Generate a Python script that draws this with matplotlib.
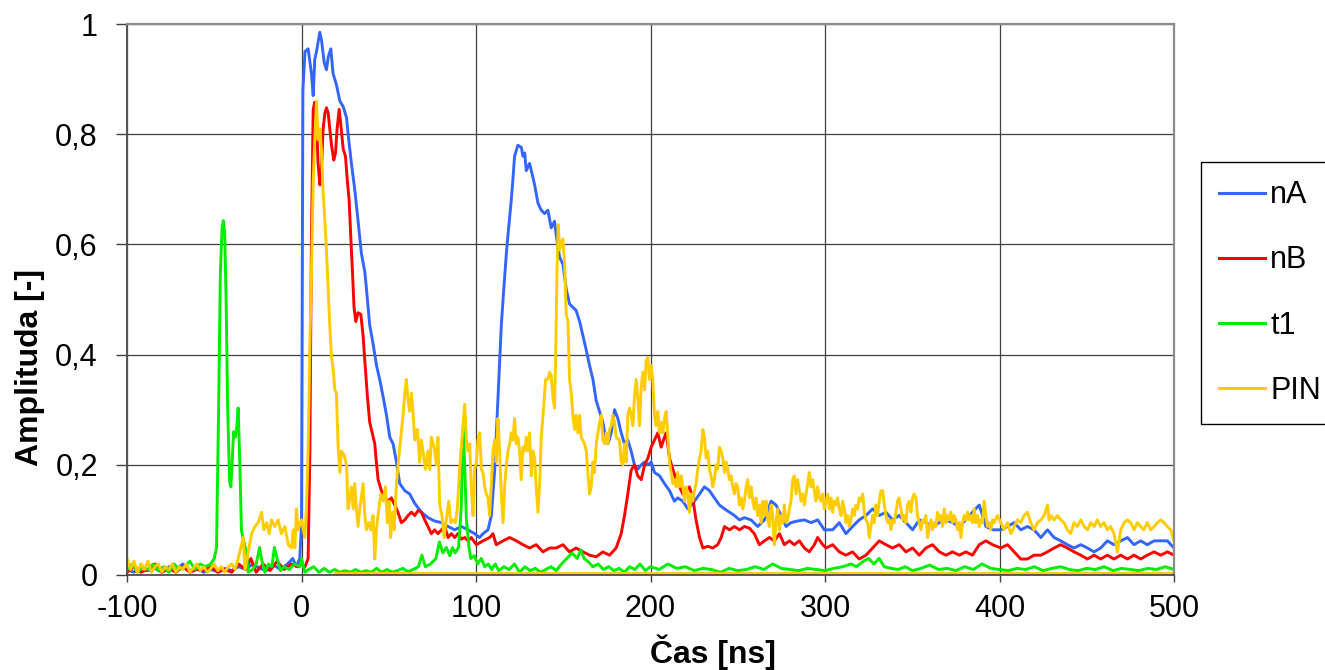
import matplotlib
matplotlib.use("Agg")
import matplotlib.pyplot as plt

plt.rcParams['font.family'] = ['Liberation Sans', 'DejaVu Sans']
plt.rcParams['axes.unicode_minus'] = False

# data (time in ns, amplitude)
nA_t = [-100, -96, -92, -88, -84, -80, -76, -72, -68, -64, -60, -56, -52, -48, -44, -40, -36, -32, -28, -24,
        -20, -16, -12, -8, -5, -3, -1, 0, 0.8, 2, 3.8, 5.7, 6.7, 7.6, 8.6, 10.5, 11.5, 13, 14.3, 15.3,
        16.8, 18.1, 20, 22, 23.9, 25.8, 26.7, 28.6, 30.5, 32.4, 34.3, 36.3, 37.2, 39.1, 41, 43, 44.8, 46.8,
        48.7, 50.6, 52.5, 54.4, 56.3, 59.2, 62, 64.9, 68.7, 72.5, 76.3, 80.2, 84, 87.8, 91.6, 95.4, 99.2,
        102, 104, 106.9, 108.8, 110.7, 112.6, 114.5, 115.5, 117.4, 118.3, 120.2, 121.2, 122.1, 124, 126,
        126.9, 127.9, 128.8, 130.7, 131.7, 133.6, 135.5, 137.4, 139.3, 141.2, 143.1, 145, 146, 147.9,
        149.8, 151.7, 153.6, 155.5, 157.4, 159.4, 161.3, 163.2, 165.1, 167, 168.9, 170.8, 172.7, 174.6,
        175.6, 177.5, 179.4, 181.3, 183.2, 185.1, 187, 188.9, 190.8, 192.7, 194.7, 196.6, 198.5, 200.4,
        202.3, 205.2, 208, 210.9, 213.7, 215.6, 218.5, 221.4, 225.2, 228.1, 230.9, 233.8, 236.6, 239.5,
        242.4, 245.2, 248.1, 251, 253.8, 257.6, 261.4, 265.3, 269.1, 271.9, 274.8, 277.7, 280.5, 284.3,
        288.2, 292, 295.8, 299.6, 304.4, 308.2, 312, 315.8, 319.6, 323.5, 327.3, 331.1, 334.9, 338.7,
        342.5, 346.4, 350.2, 354, 357.8, 361.6, 365.5, 369.3, 373.1, 376.9, 380.7, 384.5, 388.4, 392.2,
        396, 400.8, 404.6, 408.4, 412.2, 416, 419.8, 423.7, 427.5, 431.3, 435.1, 438.9, 442.7, 446.6,
        450.4, 454.2, 458, 461.8, 465.6, 469.5, 473.3, 477.1, 480.9, 484.7, 488.6, 492.4, 496.2, 500]
nA_a = [0.01, 0.005, 0.015, 0.008, 0.012, 0.005, 0.015, 0.01, 0.02, 0.008, 0.012, 0.005, 0.01, 0.006, 0.012,
        0.008, 0.015, 0.01, 0.02, 0.012, 0.008, 0.018, 0.01, 0.02, 0.03, 0.015, 0.03, 0.09, 0.88, 0.95,
        0.955, 0.91, 0.87, 0.936, 0.95, 0.985, 0.97, 0.93, 0.917, 0.94, 0.955, 0.91, 0.89, 0.86, 0.85,
        0.83, 0.80, 0.747, 0.70, 0.643, 0.584, 0.55, 0.52, 0.453, 0.42, 0.38, 0.355, 0.323, 0.29, 0.25,
        0.238, 0.205, 0.166, 0.153, 0.147, 0.13, 0.114, 0.104, 0.098, 0.095, 0.088, 0.082, 0.088, 0.082,
        0.075, 0.068, 0.075, 0.082, 0.108, 0.19, 0.323, 0.453, 0.5, 0.584, 0.616, 0.68, 0.72, 0.76, 0.78,
        0.776, 0.76, 0.766, 0.734, 0.747, 0.734, 0.708, 0.675, 0.662, 0.656, 0.662, 0.63, 0.642, 0.616,
        0.577, 0.564, 0.519, 0.492, 0.486, 0.48, 0.46, 0.434, 0.408, 0.38, 0.355, 0.316, 0.297, 0.277,
        0.245, 0.238, 0.258, 0.3, 0.284, 0.258, 0.238, 0.245, 0.225, 0.2, 0.192, 0.2, 0.205, 0.2, 0.205,
        0.186, 0.18, 0.166, 0.153, 0.134, 0.14, 0.134, 0.12, 0.134, 0.147, 0.16, 0.153, 0.14, 0.127, 0.12,
        0.114, 0.108, 0.1, 0.104, 0.1, 0.088, 0.1, 0.134, 0.127, 0.108, 0.088, 0.095, 0.098, 0.1, 0.095,
        0.1, 0.082, 0.082, 0.095, 0.075, 0.088, 0.1, 0.108, 0.12, 0.108, 0.114, 0.1, 0.108, 0.095, 0.082,
        0.1, 0.095, 0.088, 0.095, 0.1, 0.095, 0.088, 0.1, 0.114, 0.127, 0.088, 0.082, 0.082, 0.088, 0.095,
        0.082, 0.088, 0.082, 0.068, 0.082, 0.068, 0.062, 0.055, 0.049, 0.055, 0.049, 0.042, 0.049, 0.062,
        0.055, 0.062, 0.068, 0.055, 0.062, 0.055, 0.062, 0.062, 0.062, 0.049]

nB_t = [-100, -96, -92, -88, -84, -80, -76, -72, -68, -64, -60, -56, -52, -48, -44, -40, -36, -32, -29, -26,
        -22, -18, -14, -10, -6, -2, 0, 2, 3.8, 4.8, 5.7, 6.7, 7.6, 8.6, 9.5, 10.5, 11.4, 12.4, 13.4, 14.3,
        15.3, 16.2, 17.2, 18.5, 19.5, 20.4, 21.6, 22.5, 23.9, 25.2, 26.3, 27.3, 28.2, 29.2, 30.1, 31.1,
        32.4, 34, 35.3, 36.3, 37.8, 39.1, 40.5, 42, 42.9, 43.9, 45.8, 47.7, 49.6, 51.5, 53.4, 55.3, 57.2,
        59.2, 61.1, 63, 64.9, 66.8, 68.7, 70.6, 72.5, 74.4, 76.3, 78.2, 80.2, 82.1, 84, 85.9, 87.8, 89.7,
        91.6, 93.5, 95.4, 97.3, 100.2, 104, 107.8, 109.7, 111.6, 115.5, 119.3, 123.1, 126.9, 130.7, 134.5,
        138.4, 142.2, 146, 149.8, 153.6, 157.4, 161.3, 165.1, 168.9, 172.7, 176.5, 180.3, 183.2, 185.1,
        187, 188.9, 190.8, 192.7, 194.7, 196.6, 198.5, 200.4, 202.3, 204.2, 206.1, 208, 209, 210.9, 212.8,
        214.7, 216.6, 218.5, 220.4, 222.3, 224.2, 226.1, 228.1, 230, 232.8, 235.7, 238.5, 240.5, 242.4,
        245.2, 248.1, 251, 253.8, 256.7, 259.5, 262.4, 265.3, 268.1, 271, 273.9, 276.7, 279.6, 282.4,
        285.3, 288.2, 291, 293.9, 295.8, 298.7, 300.6, 304.4, 308.2, 312, 315.8, 319.6, 323.5, 327.3,
        331.1, 334.9, 338.7, 342.5, 346.4, 350.2, 354, 357.8, 361.6, 365.5, 369.3, 373.1, 376.9, 380.7,
        384.5, 388.4, 392.2, 396, 400.8, 404.6, 408.4, 412.2, 416, 419.8, 423.7, 427.5, 431.3, 435.1,
        438.9, 442.7, 446.6, 450.4, 454.2, 458, 461.8, 465.6, 469.5, 473.3, 477.1, 480.9, 484.7, 488.6,
        492.4, 496.2, 500]
nB_a = [0.005, 0.015, 0.005, 0.01, 0.02, 0.005, 0.012, 0.005, 0.015, 0.005, 0.01, 0.008, 0.015, 0.005, 0.01,
        0.005, 0.02, 0.01, 0.03, 0.005, 0.02, 0.008, 0.025, 0.01, 0.02, 0.015, 0.02, 0.015, 0.03, 0.225,
        0.616, 0.845, 0.858, 0.825, 0.747, 0.708, 0.734, 0.81, 0.838, 0.848, 0.838, 0.81, 0.78, 0.753,
        0.766, 0.81, 0.845, 0.818, 0.773, 0.76, 0.714, 0.68, 0.616, 0.551, 0.486, 0.46, 0.476, 0.473,
        0.434, 0.388, 0.323, 0.277, 0.258, 0.238, 0.205, 0.173, 0.153, 0.14, 0.134, 0.14, 0.127, 0.114,
        0.095, 0.1, 0.108, 0.114, 0.108, 0.117, 0.114, 0.1, 0.088, 0.075, 0.082, 0.075, 0.082, 0.088,
        0.068, 0.075, 0.068, 0.075, 0.065, 0.068, 0.062, 0.068, 0.055, 0.062, 0.068, 0.075, 0.055, 0.062,
        0.068, 0.062, 0.055, 0.049, 0.055, 0.042, 0.049, 0.049, 0.055, 0.042, 0.049, 0.042, 0.036, 0.033,
        0.042, 0.036, 0.049, 0.075, 0.108, 0.147, 0.19, 0.2, 0.18, 0.173, 0.2, 0.212, 0.232, 0.245, 0.258,
        0.232, 0.25, 0.258, 0.212, 0.192, 0.173, 0.16, 0.147, 0.153, 0.16, 0.14, 0.1, 0.068, 0.049, 0.052,
        0.049, 0.055, 0.068, 0.088, 0.082, 0.088, 0.082, 0.088, 0.085, 0.075, 0.055, 0.062, 0.068, 0.062,
        0.075, 0.055, 0.062, 0.055, 0.062, 0.049, 0.042, 0.055, 0.068, 0.055, 0.049, 0.055, 0.042, 0.036,
        0.042, 0.029, 0.036, 0.049, 0.062, 0.055, 0.049, 0.055, 0.042, 0.049, 0.036, 0.049, 0.055, 0.042,
        0.036, 0.042, 0.036, 0.042, 0.036, 0.055, 0.062, 0.055, 0.049, 0.055, 0.042, 0.029, 0.029, 0.036,
        0.036, 0.042, 0.049, 0.055, 0.049, 0.042, 0.036, 0.029, 0.036, 0.029, 0.036, 0.029, 0.036, 0.029,
        0.036, 0.029, 0.036, 0.042, 0.036, 0.042, 0.036]

t1_t = [-100, -97, -94, -91, -88, -85, -82, -79, -76, -73, -70, -67, -64, -61, -58, -55, -52, -50, -48.7,
        -47.5, -46.5, -45.5, -44.8, -44, -43.2, -42.3, -41.2, -40.5, -39.8, -38.9, -38, -37.2, -36.3,
        -35.5, -34.4, -33, -31.5, -30.5, -28, -26, -24, -23, -21, -19, -17, -15.5, -14, -12, -10, -7, -4,
        -1, 0, 2, 4, 7, 10, 13, 16, 19, 22, 25, 28, 31, 34, 37, 40, 43, 46, 49, 52, 55, 58, 61, 64, 67,
        69, 71, 74, 77, 79, 81, 83, 85, 86.5, 88, 90, 91.5, 92.6, 93.5, 94.5, 96, 97, 99, 101, 103, 105,
        107, 109, 111, 113, 116, 119, 122, 125, 128, 131, 134, 137, 140, 143, 146, 149, 152, 155, 158,
        160, 162, 164, 167, 170, 173, 176, 179, 182, 185, 188, 191, 194, 197, 200, 205, 210, 215, 220,
        225, 230, 235, 240, 245, 250, 255, 260, 265, 270, 275, 280, 285, 290, 295, 300, 305, 310, 315,
        318, 322, 325, 328, 331, 334, 338, 342, 346, 350, 355, 360, 365, 370, 375, 380, 385, 390, 395,
        400, 405, 410, 415, 420, 425, 430, 435, 440, 445, 450, 455, 460, 465, 470, 475, 480, 485, 490,
        495, 500]
t1_a = [0.01, 0.02, 0.005, 0.015, 0.01, 0.02, 0.008, 0.015, 0.005, 0.02, 0.01, 0.015, 0.025, 0.01, 0.02,
        0.015, 0.02, 0.03, 0.05, 0.3, 0.55, 0.63, 0.643, 0.62, 0.5, 0.3, 0.17, 0.16, 0.2, 0.26, 0.25,
        0.265, 0.303, 0.22, 0.08, 0.06, 0.04, 0.005, 0.01, 0.02, 0.05, 0.03, 0.005, 0.02, 0.015, 0.05,
        0.03, 0.008, 0.015, 0.01, 0.02, 0.015, 0.03, 0.005, 0.01, 0.015, 0.005, 0.012, 0.005, 0.01, 0.005,
        0.008, 0.005, 0.01, 0.005, 0.008, 0.005, 0.012, 0.005, 0.01, 0.005, 0.008, 0.012, 0.006, 0.01,
        0.015, 0.036, 0.015, 0.02, 0.03, 0.06, 0.04, 0.05, 0.035, 0.05, 0.04, 0.05, 0.12, 0.267, 0.2, 0.1,
        0.05, 0.03, 0.035, 0.02, 0.03, 0.015, 0.02, 0.01, 0.02, 0.008, 0.015, 0.01, 0.02, 0.005, 0.015,
        0.008, 0.012, 0.005, 0.01, 0.015, 0.008, 0.02, 0.03, 0.04, 0.03, 0.045, 0.03, 0.025, 0.015, 0.02,
        0.01, 0.015, 0.008, 0.012, 0.005, 0.015, 0.01, 0.02, 0.008, 0.015, 0.01, 0.02, 0.012, 0.015,
        0.008, 0.012, 0.01, 0.005, 0.012, 0.008, 0.01, 0.015, 0.01, 0.02, 0.012, 0.01, 0.008, 0.012, 0.01,
        0.008, 0.012, 0.015, 0.02, 0.015, 0.025, 0.03, 0.02, 0.03, 0.015, 0.012, 0.01, 0.015, 0.008,
        0.012, 0.018, 0.01, 0.012, 0.008, 0.015, 0.01, 0.02, 0.012, 0.01, 0.008, 0.012, 0.01, 0.015,
        0.008, 0.012, 0.015, 0.01, 0.008, 0.012, 0.01, 0.015, 0.008, 0.012, 0.01, 0.008, 0.012, 0.01,
        0.015, 0.01]

pin_t = [-100, -98, -96, -94, -92, -90, -88, -86, -84, -82, -80, -78, -76, -74, -72, -70, -68, -66, -64, -62,
         -60, -58, -56, -54, -52, -50, -48, -46, -44, -42, -40, -38, -36.3, -33.4, -32.4, -30.5, -28.6,
         -26.7, -24.8, -22.9, -21.6, -20, -18.5, -17.2, -15.3, -13.4, -11.5, -9.5, -7.6, -5.7, -4.8, -3.8,
         -2.9, -1.9, 0, 1.9, 2.9, 3.8, 4.8, 5.7, 6.7, 7.6, 8.6, 9.5, 10.5, 11.4, 12.4, 13.4, 14.3, 15.3,
         16.2, 17.2, 18.1, 19.1, 20, 21, 22, 22.9, 24.4, 25.8, 26.7, 27.7, 28.6, 29.6, 30.5, 31.5, 32.4,
         33.4, 35.3, 36.3, 37.2, 38.5, 39.7, 41, 42, 42.9, 44.3, 45.4, 46.8, 48.1, 49.2, 50.2, 51.1, 52.1,
         53.1, 54.4, 55.7, 56.9, 58.2, 59.2, 60.1, 61.1, 62, 63, 64, 64.9, 66.4, 67.7, 68.7, 69.6, 71,
         72.5, 73.5, 74.4, 76, 77.3, 78.2, 79.2, 80.5, 81.7, 83, 84.4, 85.5, 86.8, 88.2, 89.3, 90.6, 92,
         93.5, 94.5, 95.4, 96.4, 97.3, 98.3, 99.2, 100.2, 101.1, 102.1, 103.1, 104, 105, 105.9, 106.9,
         107.8, 108.8, 109.7, 110.7, 111.6, 112.6, 113.5, 114.5, 115.5, 116.4, 117.4, 118.3, 119.3, 120.2,
         121.2, 122.1, 123.1, 124, 125, 125.9, 126.9, 127.9, 128.8, 129.8, 130.7, 131.7, 132.6, 133.6,
         134.5, 135.5, 136.4, 137.4, 138.4, 139.9, 141.2, 142.2, 143.1, 144.1, 145, 145.6, 146.4, 147.1,
         147.9, 148.8, 149.8, 150.8, 151.7, 152.7, 153.6, 154.6, 155.5, 156.5, 157.4, 158.4, 159.4, 160.3,
         162.2, 163.2, 164.1, 165.1, 166, 167, 167.9, 168.9, 169.9, 170.8, 171.8, 172.7, 173.7, 174.6,
         175.6, 176.5, 177.5, 178.4, 179.4, 180.3, 182.2, 183.2, 184.2, 185.1, 186.1, 187, 188, 188.9,
         189.9, 190.8, 191.8, 192.7, 193.7, 194.7, 195.6, 196.6, 197.5, 198.5, 199.4, 200.4, 201.3, 202.3,
         203.2, 204.2, 205.2, 206.1, 207.1, 208, 209, 210, 210.9, 211.8, 212.8, 213.7, 214.7, 215.6, 216.6,
         217.6, 218.5, 219.5, 220.4, 221.4, 222.3, 223.3, 224.2, 225.2, 226.1, 227.1, 228.1, 229, 230,
         230.9, 231.9, 232.8, 233.8, 234.7, 235.7, 236.6, 237.6, 238.5, 239.5, 240.5, 241.4, 242.4, 243.3,
         244.3, 245.2, 246.2, 247.1, 248.1, 249, 250, 250.9, 251.9, 252.9, 253.8, 254.8, 255.7, 256.7,
         257.6, 258.6, 259.5, 260.5, 261.4, 262.4, 263.4, 264.3, 265.3, 266.2, 267.2, 268.1, 269.1, 270,
         271, 271.9, 272.9, 273.9, 274.8, 275.8, 276.7, 277.7, 278.6, 279.6, 280.5, 281.5, 282.4, 283.4,
         284.3, 285.3, 286.3, 287.2, 288.2, 289.1, 290.1, 291, 292, 292.9, 293.9, 294.8, 295.8, 296.8,
         297.7, 298.7, 299.6, 300.6, 301.5, 302.5, 303.4, 304.4, 305.3, 306.3, 307.2, 308.2, 309.2, 310.1,
         311.1, 312, 313, 313.9, 314.9, 315.8, 316.8, 317.7, 318.7, 319.6, 320.6, 321.6, 322.5, 323.5,
         324.4, 325.4, 326.3, 327.3, 328.2, 329.2, 330.1, 331.1, 332.1, 333, 334, 334.9, 335.9, 336.8,
         337.8, 338.7, 339.7, 340.6, 341.6, 342.5, 343.5, 344.5, 345.4, 346.4, 347.3, 348.3, 349.2, 350.2,
         351.1, 352.1, 353, 354, 355, 355.9, 356.9, 357.8, 358.8, 359.7, 360.7, 361.6, 362.6, 363.5,
         364.5, 365.5, 366.4, 367.4, 368.3, 369.3, 370.2, 371.2, 372.1, 373.1, 374, 375, 376, 376.9,
         377.9, 378.8, 379.8, 380.7, 381.7, 382.6, 383.6, 384.5, 385.5, 386.4, 387.4, 388.4, 389.3, 390.3,
         391.2, 392.2, 393.1, 394.1, 395, 396, 396.9, 398.8, 400.8, 402.7, 404.6, 406.5, 408.4, 410.3,
         412.2, 414.1, 416, 417.9, 419.8, 421.8, 423.7, 425.6, 427.5, 428.4, 429.4, 431.3, 433.2, 435.1,
         437, 438.9, 440.8, 442.7, 444.6, 446.6, 448.5, 450.4, 452.3, 454.2, 456.1, 458, 459.9, 461.8,
         463.7, 465.6, 467.6, 469.5, 471.4, 473.3, 475.2, 477.1, 479, 480.9, 482.8, 484.7, 486.6, 488.6,
         490.5, 492.4, 494.3, 496.2, 498.1, 500]
pin_a = [0.03, 0.01, 0.025, 0.005, 0.02, 0.01, 0.025, 0.005, 0.015, 0.02, 0.005, 0.015, 0.01, 0.02, 0.005,
         0.015, 0.01, 0.02, 0.005, 0.012, 0.02, 0.008, 0.015, 0.005, 0.012, 0.02, 0.008, 0.015, 0.005, 0.015,
         0.02, 0.01, 0.03, 0.068, 0.01, 0.042, 0.075, 0.088, 0.095, 0.114, 0.082, 0.095, 0.075, 0.1, 0.088,
         0.1, 0.075, 0.088, 0.055, 0.049, 0.082, 0.049, 0.12, 0.082, 0.1, 0.068, 0.127, 0.225, 0.42, 0.55,
         0.714, 0.79, 0.86, 0.79, 0.81, 0.773, 0.695, 0.643, 0.59, 0.52, 0.453, 0.395, 0.375, 0.336, 0.33,
         0.232, 0.186, 0.225, 0.218, 0.2, 0.12, 0.14, 0.16, 0.12, 0.166, 0.12, 0.088, 0.12, 0.166, 0.108,
         0.082, 0.095, 0.082, 0.108, 0.029, 0.082, 0.12, 0.147, 0.134, 0.16, 0.095, 0.134, 0.068, 0.114,
         0.082, 0.166, 0.212, 0.25, 0.29, 0.33, 0.355, 0.316, 0.297, 0.33, 0.29, 0.245, 0.264, 0.205, 0.245,
         0.225, 0.192, 0.225, 0.192, 0.25, 0.232, 0.2, 0.25, 0.127, 0.108, 0.068, 0.1, 0.134, 0.095, 0.1,
         0.095, 0.12, 0.192, 0.25, 0.31, 0.245, 0.225, 0.238, 0.16, 0.108, 0.192, 0.205, 0.245, 0.258,
         0.192, 0.186, 0.16, 0.147, 0.14, 0.108, 0.166, 0.225, 0.245, 0.205, 0.284, 0.225, 0.147, 0.095,
         0.16, 0.2, 0.225, 0.238, 0.258, 0.245, 0.284, 0.238, 0.25, 0.225, 0.173, 0.232, 0.225, 0.25, 0.225,
         0.258, 0.18, 0.225, 0.212, 0.16, 0.114, 0.16, 0.25, 0.29, 0.355, 0.355, 0.368, 0.362, 0.323, 0.303,
         0.388, 0.55, 0.636, 0.59, 0.603, 0.61, 0.564, 0.473, 0.46, 0.355, 0.33, 0.29, 0.264, 0.29, 0.258,
         0.29, 0.25, 0.238, 0.225, 0.186, 0.147, 0.16, 0.205, 0.186, 0.238, 0.258, 0.277, 0.29, 0.245,
         0.238, 0.258, 0.238, 0.264, 0.271, 0.29, 0.277, 0.25, 0.245, 0.205, 0.2, 0.238, 0.205, 0.29, 0.303,
         0.29, 0.271, 0.323, 0.355, 0.323, 0.271, 0.342, 0.368, 0.336, 0.388, 0.395, 0.355, 0.38, 0.355,
         0.29, 0.271, 0.297, 0.258, 0.277, 0.258, 0.284, 0.297, 0.25, 0.205, 0.186, 0.166, 0.173, 0.16,
         0.186, 0.16, 0.18, 0.16, 0.134, 0.16, 0.147, 0.114, 0.147, 0.134, 0.153, 0.166, 0.192, 0.212,
         0.225, 0.264, 0.25, 0.212, 0.225, 0.192, 0.18, 0.16, 0.173, 0.2, 0.192, 0.232, 0.225, 0.212, 0.186,
         0.205, 0.192, 0.173, 0.18, 0.16, 0.147, 0.166, 0.16, 0.127, 0.14, 0.12, 0.134, 0.16, 0.173, 0.14,
         0.16, 0.134, 0.12, 0.14, 0.108, 0.127, 0.095, 0.134, 0.108, 0.134, 0.1, 0.088, 0.127, 0.108, 0.055,
         0.095, 0.12, 0.082, 0.108, 0.095, 0.127, 0.095, 0.1, 0.12, 0.134, 0.173, 0.18, 0.147, 0.173, 0.153,
         0.134, 0.147, 0.127, 0.147, 0.166, 0.186, 0.16, 0.173, 0.153, 0.134, 0.16, 0.14, 0.134, 0.147,
         0.12, 0.134, 0.147, 0.12, 0.14, 0.114, 0.134, 0.127, 0.14, 0.12, 0.108, 0.134, 0.12, 0.095, 0.108,
         0.088, 0.1, 0.12, 0.108, 0.127, 0.12, 0.14, 0.134, 0.147, 0.114, 0.1, 0.095, 0.068, 0.088, 0.108,
         0.095, 0.127, 0.108, 0.134, 0.153, 0.153, 0.127, 0.108, 0.095, 0.1, 0.082, 0.1, 0.095, 0.114,
         0.134, 0.14, 0.12, 0.1, 0.108, 0.095, 0.127, 0.134, 0.114, 0.14, 0.147, 0.14, 0.108, 0.095, 0.082,
         0.1, 0.095, 0.108, 0.068, 0.088, 0.1, 0.082, 0.095, 0.088, 0.114, 0.1, 0.108, 0.088, 0.12, 0.095,
         0.108, 0.1, 0.114, 0.095, 0.108, 0.1, 0.082, 0.095, 0.068, 0.095, 0.108, 0.1, 0.114, 0.1, 0.108,
         0.095, 0.12, 0.095, 0.108, 0.088, 0.1, 0.095, 0.134, 0.108, 0.088, 0.095, 0.082, 0.1, 0.095, 0.108,
         0.095, 0.082, 0.095, 0.075, 0.088, 0.1, 0.095, 0.108, 0.114, 0.095, 0.082, 0.095, 0.1, 0.108,
         0.127, 0.1, 0.108, 0.1, 0.108, 0.1, 0.095, 0.082, 0.075, 0.095, 0.088, 0.1, 0.088, 0.082, 0.095,
         0.088, 0.1, 0.088, 0.095, 0.082, 0.088, 0.075, 0.042, 0.082, 0.095, 0.1, 0.095, 0.082, 0.095,
         0.088, 0.082, 0.095, 0.082, 0.088, 0.095, 0.1, 0.095, 0.088, 0.082, 0.062]

# flat trace sitting just above zero from ~19 ns on
base_t = [19, 500]
base_a = [0.004, 0.004]

series = [("nA", nA_t, nA_a, "#3366FF"),
          ("nB", nB_t, nB_a, "#FF0000"),
          ("t1", t1_t, t1_a, "#00EE00"),
          ("PIN", pin_t, pin_a, "#FFCC00")]

x_ticks = [-100, 0, 100, 200, 300, 400, 500]
y_ticks = [0, 0.2, 0.4, 0.6, 0.8, 1.0]
y_labels = ["0", "0,2", "0,4", "0,6", "0,8", "1"]

W, H = 1325, 670
fig = plt.figure(figsize=(W / 100, H / 100), dpi=100)
fig.patch.set_facecolor("white")
ax = fig.add_axes([127 / W, 95 / H, 1047 / W, 551 / H])

for name, t, a, c in series:
    ax.plot(t, a, color=c, lw=2.1, label=name)
ax.plot(base_t, base_a, color="#FFCC00", lw=2.1)

ax.set_xlim(-100, 500)
ax.set_ylim(0, 1)
ax.set_xticks(x_ticks)
ax.set_yticks(y_ticks)
ax.set_yticklabels(y_labels)
ax.grid(True, color="#404040", lw=0.9)
ax.set_axisbelow(True)

ax.tick_params(axis="both", direction="out", color="#404040", width=1, labelsize=22)
ax.tick_params(axis="y", length=8, pad=13)
ax.tick_params(axis="x", length=5, pad=9)

ax.spines["top"].set_color("#8c8c8c")
ax.spines["right"].set_color("#8c8c8c")
ax.spines["top"].set_linewidth(1.6)
ax.spines["right"].set_linewidth(1.6)
ax.spines["left"].set_color("#555555")
ax.spines["left"].set_linewidth(1.4)
ax.spines["bottom"].set_color("#404040")
ax.spines["bottom"].set_linewidth(1.2)

fig.text(30 / W, 1 - 368 / H, "Amplituda [-]", rotation=90, ha="center", va="center",
         fontsize=23, fontweight="bold")
fig.text(713 / W, 1 - 652 / H, "Čas [ns]", ha="center", va="center",
         fontsize=23, fontweight="bold")

leg = ax.legend(loc="upper left", bbox_to_anchor=(1201 / W, 1 - 162 / H),
                bbox_transform=fig.transFigure, borderaxespad=0, fontsize=22,
                fancybox=False, framealpha=1, edgecolor="black",
                handlelength=1.5, handletextpad=0.17, borderpad=0.6, labelspacing=1.15)
leg.get_frame().set_linewidth(1.0)
for line in leg.get_lines():
    line.set_linewidth(2.2)

fig.savefig("out.png", dpi=100)
